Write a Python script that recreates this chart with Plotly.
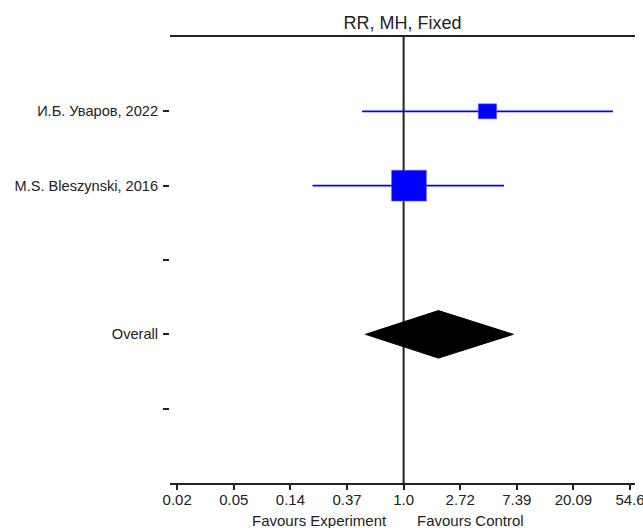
import math
import plotly.graph_objects as go

# ---------------- data ----------------
row_labels = ["И.Б. Уваров, 2022", "M.S. Bleszynski, 2016", "", "Overall", ""]
study_names = ["И.Б. Уваров, 2022", "M.S. Bleszynski, 2016"]
study_rr = [4.40, 1.10]
study_lo = [0.48, 0.20]
study_hi = [40.4, 5.89]
overall_rr = 1.85
overall_lo = 0.51
overall_hi = 6.95
tick_values = [math.exp(k) for k in range(-4, 5)]
tick_labels = ["0.02", "0.05", "0.14", "0.37", "1.0", "2.72", "7.39", "20.09", "54.6"]
title_text = "RR, MH, Fixed"
left_note = "Favours Experiment"
right_note = "Favours Control"

# ---------------- styles ----------------
W, H = 643, 528
ML, MR, MT, MB = 170, 8, 37, 45
BLUE = "blue"
INK = "#222222"
SANS = "Liberation Sans, Arial, sans-serif"
box_half_w = [0.162, 0.307]   # in ln units
box_half_h = [0.101, 0.207]   # in row units
diamond_half_h = 0.32
x_range_ln = (-4.127, 4.088)

fig = go.Figure()

# vertical null line at RR = 1
fig.add_trace(go.Scatter(x=[1, 1], y=[-1, 5], mode="lines",
                         line=dict(color=INK, width=2), hoverinfo="skip",
                         showlegend=False, cliponaxis=True))

for i, name in enumerate(study_names):
    yrow = row_labels.index(name)
    fig.add_trace(go.Scatter(x=[study_lo[i], study_hi[i]], y=[yrow, yrow], mode="lines",
                             line=dict(color=BLUE, width=1.6), showlegend=False,
                             hoverinfo="skip"))
    est = study_rr[i]
    a = est * math.exp(-box_half_w[i])
    b = est * math.exp(box_half_w[i])
    hh = box_half_h[i]
    fig.add_trace(go.Scatter(x=[a, b, b, a, a], y=[yrow - hh, yrow - hh, yrow + hh, yrow + hh, yrow - hh],
                             mode="lines", fill="toself", fillcolor=BLUE,
                             line=dict(color="rgba(90,90,255,0.6)", width=1),
                             showlegend=False, hoverinfo="skip"))

yo = row_labels.index("Overall")
fig.add_trace(go.Scatter(x=[overall_lo, overall_rr, overall_hi, overall_rr, overall_lo],
                         y=[yo, yo - diamond_half_h, yo, yo + diamond_half_h, yo],
                         mode="lines", fill="toself", fillcolor="black",
                         line=dict(color="black", width=1), showlegend=False,
                         hoverinfo="skip"))

note_y = (483 - 520) / (H - MT - MB)
fig.update_layout(
    width=W, height=H,
    margin=dict(l=ML, r=MR, t=MT, b=MB, autoexpand=False),
    paper_bgcolor="white", plot_bgcolor="white",
    title=dict(text=title_text, x=0.5, xref="paper", xanchor="center",
               y=1 - 22.5 / H, yref="container", yanchor="middle",
               font=dict(family=SANS, size=18, color=INK)),
    xaxis=dict(type="log", automargin=False,
               range=[x_range_ln[0] / math.log(10), x_range_ln[1] / math.log(10)],
               tickvals=tick_values, ticktext=tick_labels,
               showgrid=False, zeroline=False,
               showline=True, linecolor=INK, linewidth=2, mirror=True,
               ticks="outside", ticklen=5, tickwidth=1.5, tickcolor=INK,
               ticklabeloverflow="allow", ticklabelstandoff=-3,
               tickfont=dict(family=SANS, size=15, color=INK)),
    yaxis=dict(range=[5, -1], automargin=False,
               tickvals=list(range(len(row_labels))), ticktext=row_labels,
               showgrid=False, zeroline=False, showline=False,
               ticks="outside", ticklen=6, tickwidth=1.5, tickcolor=INK,
               ticklabelstandoff=2,
               tickfont=dict(family=SANS, size=14.6, color=INK)),
    annotations=[
        dict(text=left_note, xref="x", x=0, xanchor="right", xshift=-15,
             yref="paper", y=note_y, yanchor="middle",
             showarrow=False, font=dict(family=SANS, size=15, color=INK)),
        dict(text=right_note, xref="x", x=0, xanchor="left", xshift=11,
             yref="paper", y=note_y, yanchor="middle",
             showarrow=False, font=dict(family=SANS, size=15, color=INK)),
    ],
)

fig.write_html("out.html")
